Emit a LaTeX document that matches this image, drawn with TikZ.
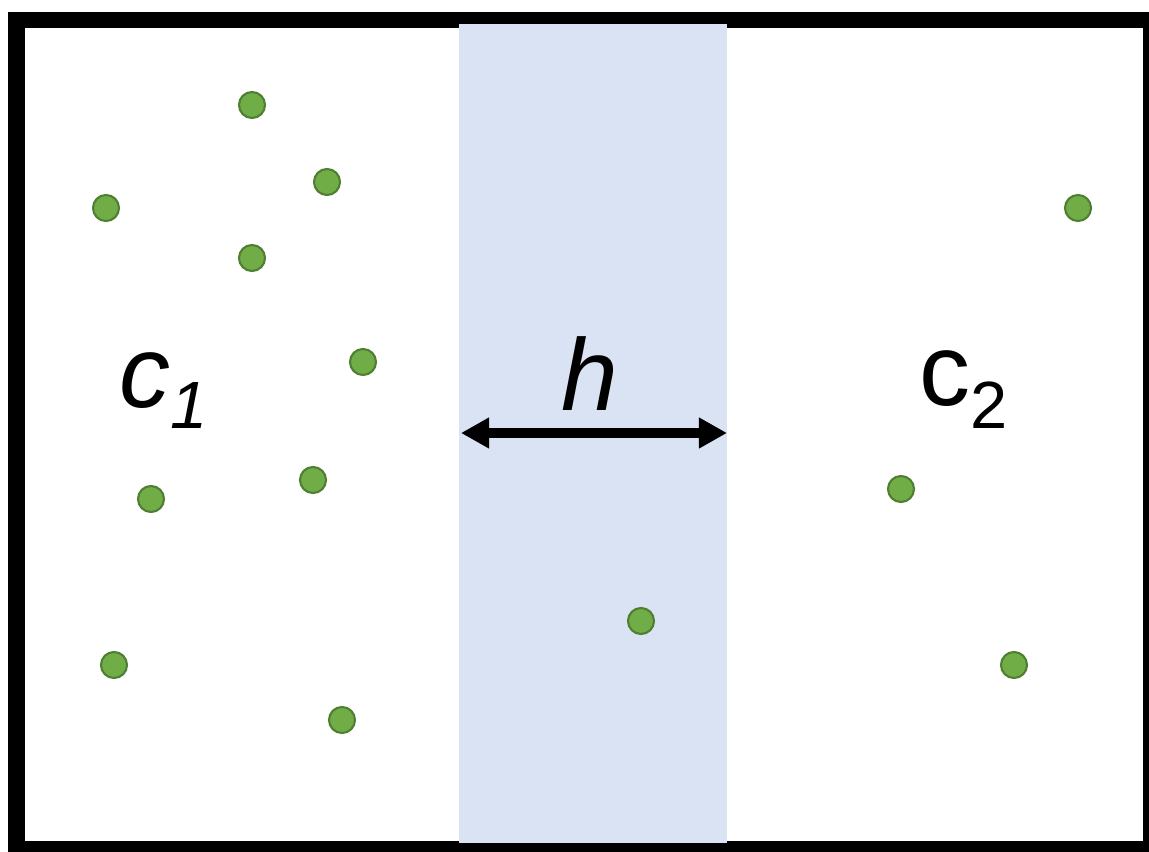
\documentclass[tikz,border=0pt]{standalone}
\usepackage{fontspec}
\setmainfont{Liberation Sans}
\usepackage{xcolor}
\usetikzlibrary{arrows.meta}
\definecolor{gapBand}{HTML}{DAE3F3}
\definecolor{pointFill}{HTML}{70AD47}
\definecolor{pointLine}{HTML}{507E32}

\begin{document}
\begin{tikzpicture}[
  x=0.01cm, y=-0.01cm,
  frame/.style={draw=black, line width=4.55pt},
  band/.style={fill=gapBand},
  pt/.style={circle, draw=pointLine, fill=pointFill, line width=0.6pt,
             minimum size=0.26cm, inner sep=0pt},
  cls/.style={inner sep=0pt, anchor=base west, font=\fontsize{29}{29}\selectfont},
  sub/.style={inner sep=0pt, anchor=base west, font=\fontsize{19}{19}\selectfont},
  gap/.style={{Triangle[length=0.28cm, width=0.29cm]}-{Triangle[length=0.28cm, width=0.29cm]},
              line width=3.1pt},
]
\useasboundingbox (0,0) rectangle (1149,852);

% --- frame and margin band ---
\draw[frame] (16.5,20) rectangle (1151,849);
\fill[band] (459,24) rectangle (727,843);

% --- class 1 points ---
\node[pt] (p1)  at (252,105) {};
\node[pt] (p2)  at (327,182) {};
\node[pt] (p3)  at (106,208) {};
\node[pt] (p4)  at (252,258) {};
\node[pt] (p5)  at (363,362) {};
\node[pt] (p6)  at (313,480) {};
\node[pt] (p7)  at (151,499) {};
\node[pt] (p8)  at (114,665) {};
\node[pt] (p9)  at (342,720) {};

% --- point inside the band ---
\node[pt] (p10) at (641,621) {};

% --- class 2 points ---
\node[pt] (p11) at (1078,208) {};
\node[pt] (p12) at (901,489) {};
\node[pt] (p13) at (1014,665) {};

% --- class labels ---
\node[cls] (c1)  at (119,407) {\itshape c};
\node[sub] (c1s) at (170,429) {\itshape 1};
\node[cls] (c2)  at (919,405) {c};
\node[sub] (c2s) at (970,428) {2};

% --- width of the band ---
\coordinate (hl) at (461,433);
\coordinate (hr) at (727,433);
\draw[gap] (hl) -- (hr);
\node[cls, anchor=base] (hlab) at (590,410) {\itshape h};
\end{tikzpicture}
\end{document}
